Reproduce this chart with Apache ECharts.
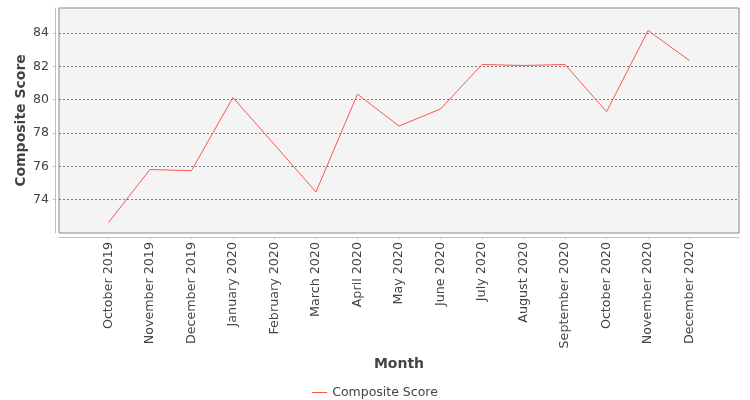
<!DOCTYPE html>
<html>
<head>
<meta charset="utf-8">
<script src="https://cdn.jsdelivr.net/npm/echarts@6/dist/echarts.min.js"></script>
<style>
  html, body { margin: 0; padding: 0; background: #ffffff; }
  #chart { width: 750px; height: 400px; }
</style>
</head>
<body>
<div id="chart"></div>
<script>
const categories = [
  'October 2019', 'November 2019', 'December 2019', 'January 2020', 'February 2020',
  'March 2020', 'April 2020', 'May 2020', 'June 2020', 'July 2020',
  'August 2020', 'September 2020', 'October 2020', 'November 2020', 'December 2020'
];
const compositeScore = [
  72.62, 75.81, 75.74, 80.13, 77.30,
  74.46, 80.33, 78.42, 79.44, 82.11,
  82.05, 82.11, 79.28, 84.15, 82.34
];
const yTickValues = [74, 76, 78, 80, 82, 84];

const FONT = 'DejaVu Sans';
const indices = categories.map((_, i) => i);
const seriesData = compositeScore.map((v, i) => [i, v]);

const chart = echarts.init(document.getElementById('chart'), null, { renderer: 'canvas' });
chart.setOption({
  animation: false,
  backgroundColor: '#ffffff',
  textStyle: { fontFamily: FONT },
  grid: {
    left: 59, right: 11, top: 8, bottom: 167,
    show: true,
    backgroundColor: '#f4f4f4',
    borderColor: '#888888',
    borderWidth: 1,
    containLabel: false,
    outerBoundsMode: 'none'
  },
  legend: {
    top: 381,
    left: 'center',
    icon: 'rect',
    itemWidth: 15,
    itemHeight: 1,
    textStyle: { fontFamily: FONT, fontSize: 12.5, color: '#444444' },
    data: ['Composite Score']
  },
  xAxis: {
    type: 'value',
    min: -1.19,
    max: 15.19,
    offset: 4,
    name: 'Month',
    nameLocation: 'middle',
    nameGap: 120,
    nameMoveOverlap: false,
    nameTextStyle: { fontFamily: FONT, fontSize: 14, fontWeight: 'bold', color: '#444444' },
    axisLine: { show: true, onZero: false, lineStyle: { color: '#c0c0c0', width: 1 } },
    axisTick: { show: true, length: 2, inside: false, customValues: indices, lineStyle: { color: '#c0c0c0' } },
    axisLabel: {
      customValues: indices,
      rotate: 90,
      margin: 5,
      fontFamily: FONT,
      fontSize: 12.7,
      color: '#444444',
      formatter: function (v) { return categories[Math.round(v)] || ''; }
    },
    splitLine: { show: false }
  },
  yAxis: {
    type: 'value',
    min: 72,
    max: 85.5,
    interval: 2,
    offset: 4,
    name: 'Composite Score',
    nameLocation: 'middle',
    nameGap: 27,
    nameMoveOverlap: false,
    nameTextStyle: { fontFamily: FONT, fontSize: 14, fontWeight: 'bold', color: '#444444' },
    axisLine: { show: true, onZero: false, lineStyle: { color: '#c0c0c0', width: 1 } },
    axisTick: { show: true, length: 2, inside: false, customValues: yTickValues, lineStyle: { color: '#c0c0c0' } },
    axisLabel: {
      customValues: yTickValues,
      margin: 6,
      fontFamily: FONT,
      fontSize: 12.5,
      color: '#444444'
    },
    splitLine: { show: true, lineStyle: { color: '#808080', width: 1, type: [2, 2] } }
  },
  series: [{
    name: 'Composite Score',
    type: 'line',
    data: seriesData,
    showSymbol: false,
    symbol: 'none',
    itemStyle: { color: '#ff5555' },
    lineStyle: { color: '#ff5555', width: 1 }
  }]
});
</script>
</body>
</html>
